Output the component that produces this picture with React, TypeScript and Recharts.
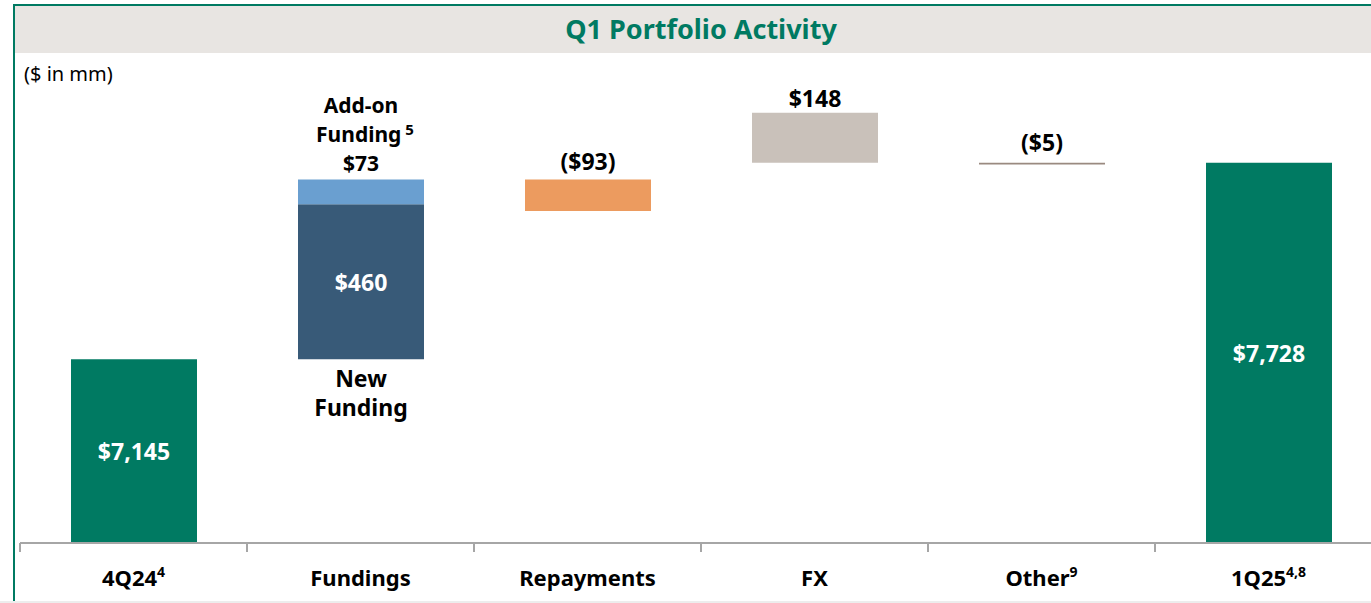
import React from 'react';
import { BarChart, Bar, XAxis, YAxis, LabelList } from 'recharts';

// ============================================
// Q1 Portfolio Activity - waterfall
// ============================================

const categories = ['4Q24', 'Fundings', 'Repayments', 'FX', 'Other', '1Q25'];
const tickSup = ['4', '', '', '', '9', '4,8'];

// $ in mm
const totals = [7145, 0, 0, 0, 0, 7728];
const floatBase = [0, 7145, 7585, 7728, 7723, 0];
const newFunding = [0, 460, 0, 0, 0, 0];
const addOnFunding = [0, 73, 0, 0, 0, 0];
const repayments = [0, 0, -93, 0, 0, 0];
const fx = [0, 0, 0, 148, 0, 0];
const other = [0, 0, 0, 0, -5, 0];

const yDomain = [6600, 8000];

const FONT = '"Noto Sans", "Open Sans", sans-serif';
const GREEN = '#007A62';
const CHART_W = 1390;
const CHART_H = 603;
const MARGIN = { top: 71, right: 8, left: 20, bottom: 0 };
const AXIS_H = 60;
const PLOT_BOTTOM = CHART_H - MARGIN.bottom - AXIS_H;
const BAND = (CHART_W - MARGIN.left - MARGIN.right) / categories.length;

const data = categories.map((name, i) => ({
  name,
  base: floatBase[i],
  total: totals[i],
  newFunding: newFunding[i],
  addOn: addOnFunding[i],
  repay: Math.abs(repayments[i]),
  fx: fx[i],
  other: Math.abs(other[i]),
}));

const fmt = (v: number) =>
  v < 0 ? `($${Math.abs(v).toLocaleString('en-US')})` : `$${v.toLocaleString('en-US')}`;

const textStyle = { fontFamily: FONT, fontWeight: 700, fontSize: 23 };

const CategoryTick = (props: any) => {
  const { x, payload } = props;
  const sup = tickSup[payload.index];
  return (
    <g>
      <line
        x1={x - BAND / 2}
        x2={x - BAND / 2}
        y1={PLOT_BOTTOM}
        y2={PLOT_BOTTOM + 9}
        stroke="#A6A6A6"
        strokeWidth={2}
      />
      <text x={x} y={PLOT_BOTTOM + 43} textAnchor="middle" fill="#000" {...textStyle} fontSize={22}>
        <tspan>{payload.value}</tspan>
        {sup ? (
          <tspan dy={-9} fontSize={14}>
            {sup}
          </tspan>
        ) : null}
      </text>
    </g>
  );
};

// white value in the middle of the visible part of a bar
const InsideLabel = (props: any) => {
  const { x, y, width, height, value } = props;
  if (!value) return null;
  const bottom = Math.min(y + height, PLOT_BOTTOM);
  return (
    <text x={x + width / 2} y={(y + bottom) / 2 + 9} textAnchor="middle" fill="#fff" {...textStyle}>
      {fmt(value)}
    </text>
  );
};

// black value above a bar; sign tells whether the step goes down
const TopLabel = (sign: number, gap: number) => (props: any) => {
  const { x, y, width, value } = props;
  if (!value) return null;
  return (
    <text x={x + width / 2} y={y - gap} textAnchor="middle" fill="#000" {...textStyle}>
      {fmt(sign * value)}
    </text>
  );
};

const AddOnLabel = (props: any) => {
  const { x, y, width, value } = props;
  if (!value) return null;
  const cx = x + width / 2;
  const lbl = { ...textStyle, fontSize: 21 };
  return (
    <g>
      <text x={cx} y={y - 67} textAnchor="middle" fill="#000" {...lbl}>
        Add-on
      </text>
      <text x={cx + 4} y={y - 38} textAnchor="middle" fill="#000" {...lbl}>
        Funding
        <tspan dy={-7} fontSize={15}>
          {' 5'}
        </tspan>
      </text>
      <text x={cx} y={y - 9} textAnchor="middle" fill="#000" {...lbl}>
        {fmt(value)}
      </text>
    </g>
  );
};

const NewFundingLabel = (props: any) => {
  const { x, y, width, height, value } = props;
  if (!value) return null;
  const cx = x + width / 2;
  const bottom = y + height;
  return (
    <g>
      <text x={cx} y={(y + bottom) / 2 + 9} textAnchor="middle" fill="#fff" {...textStyle}>
        {fmt(value)}
      </text>
      <text x={cx} y={bottom + 28} textAnchor="middle" fill="#000" {...textStyle}>
        <tspan x={cx}>New</tspan>
        <tspan x={cx} dy={29}>
          Funding
        </tspan>
      </text>
    </g>
  );
};

export default function App() {
  return (
    <div
      style={{
        position: 'fixed',
        left: 0,
        top: 0,
        width: 1371,
        height: 603,
        overflow: 'hidden',
        background: '#fff',
        fontFamily: FONT,
      }}
    >
      <div
        style={{
          position: 'absolute',
          left: 13,
          top: 4,
          width: 1400,
          height: 47,
          background: '#E8E5E2',
          borderTop: `2px solid ${GREEN}`,
        }}
      />
      <div style={{ position: 'absolute', left: 13, top: 4, width: 2, height: 600, background: GREEN }} />
      <div style={{ position: 'absolute', left: 0, top: 601, width: 1371, height: 2, background: '#EDEDED' }} />
      <div
        style={{
          position: 'absolute',
          left: 13,
          width: 1376,
          top: 11,
          textAlign: 'center',
          color: GREEN,
          fontWeight: 700,
          fontSize: 27,
          lineHeight: '36px',
        }}
      >
        Q1 Portfolio Activity
      </div>
      <div style={{ position: 'absolute', left: 24, top: 61, fontSize: 20, lineHeight: '26px', color: '#000' }}>
        ($ in mm)
      </div>
      <div style={{ position: 'absolute', left: 0, top: 0 }}>
        <BarChart width={CHART_W} height={CHART_H} data={data} margin={MARGIN} barSize={126}>
          <XAxis
            dataKey="name"
            height={AXIS_H}
            interval={0}
            tickLine={false}
            axisLine={{ stroke: '#A6A6A6', strokeWidth: 2 }}
            tick={<CategoryTick />}
          />
          <YAxis hide type="number" domain={yDomain} allowDataOverflow />
          <Bar dataKey="base" stackId="w" fill="transparent" isAnimationActive={false} />
          <Bar dataKey="total" stackId="w" fill={GREEN} isAnimationActive={false}>
            <LabelList dataKey="total" content={InsideLabel} />
          </Bar>
          <Bar dataKey="newFunding" stackId="w" fill="#385A78" isAnimationActive={false}>
            <LabelList dataKey="newFunding" content={NewFundingLabel} />
          </Bar>
          <Bar dataKey="addOn" stackId="w" fill="#6A9FD0" isAnimationActive={false}>
            <LabelList dataKey="addOn" content={AddOnLabel} />
          </Bar>
          <Bar dataKey="repay" stackId="w" fill="#EC9B5F" isAnimationActive={false}>
            <LabelList dataKey="repay" content={TopLabel(Math.sign(repayments[2]), 10)} />
          </Bar>
          <Bar dataKey="fx" stackId="w" fill="#C9C1BA" isAnimationActive={false}>
            <LabelList dataKey="fx" content={TopLabel(Math.sign(fx[3]), 6)} />
          </Bar>
          <Bar dataKey="other" stackId="w" fill="#9A8A80" isAnimationActive={false}>
            <LabelList dataKey="other" content={TopLabel(Math.sign(other[4]), 12)} />
          </Bar>
        </BarChart>
      </div>
    </div>
  );
}
